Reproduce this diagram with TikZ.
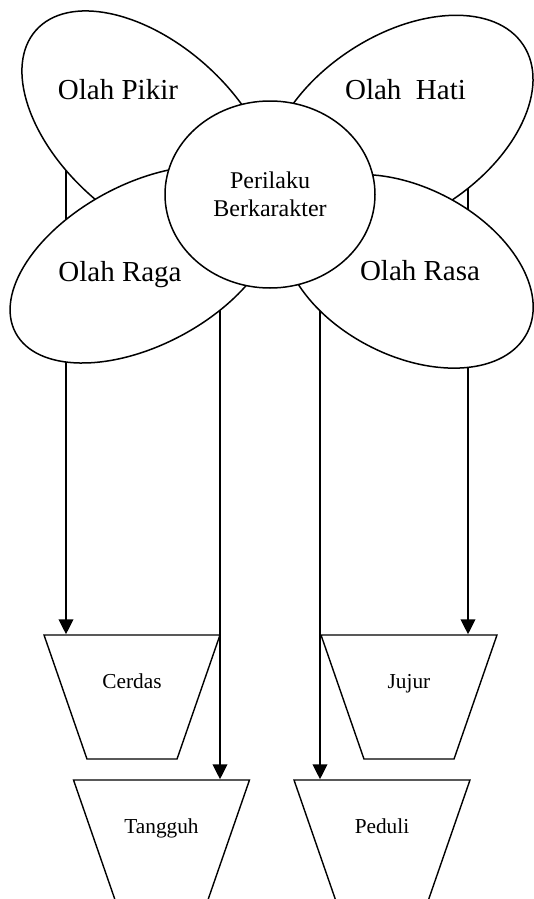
\documentclass[tikz,border=0pt]{standalone}
\usepackage{fontspec}
\setmainfont{Liberation Serif}
\usepackage{tikz}
\usetikzlibrary{positioning, shapes.geometric, arrows.meta}
\tikzstyle{diagram} = [x = 1pt, y = -1pt]
\tikzstyle{petalStyle} = [draw, fill=white, ellipse, inner sep=0, line width=1.5pt]
\tikzstyle{hubStyle} = [petalStyle, minimum width=210pt, minimum height=187pt, align=center, font=\fontsize{24}{28}\selectfont]
\tikzstyle{petalText} = [anchor=base, inner sep=0, font=\fontsize{29}{35}\selectfont]
\tikzstyle{boxStyle} = [draw, fill=white, trapezium, shape border rotate=180, trapezium stretches=true, trapezium left angle=64.5, trapezium right angle=64.5, minimum width=176pt, minimum height=124pt, inner sep=2pt, line width=1.4pt]
\tikzstyle{boxText} = [anchor=base, inner sep=0, font=\fontsize{21.3}{25}\selectfont]
\tikzstyle{arrowLine} = [line width=2.1pt, -{Triangle[length=15pt, width=14.5pt]}]
\newcommand{\petal}[6]{\node [petalStyle, minimum width=#4pt, minimum height=#5pt, rotate=#6] (#1) at (#2,#3) {};}
\newcommand{\resultBox}[4]{\node [boxStyle] (#1) at (#2,#3) {};
  \node [boxText] (#1Text) at ([yshift=9pt]#1.center) {#4};}
\newcommand{\pathway}[4]{\coordinate (#1) at (#2,#3);
  \draw [arrowLine] (#1) -- (#4.north -| #1);}

\begin{document}
\begin{tikzpicture}[diagram]
  \useasboundingbox (0,0) rectangle (534,899);
  % result boxes
  \resultBox{cerdas}{132}{697}{Cerdas}
  \resultBox{jujur}{409}{697}{Jujur}
  \resultBox{tangguh}{161.5}{842}{Tangguh}
  \resultBox{peduli}{382}{842}{Peduli}
  % lines down from the petals
  \pathway{pikirFoot}{66}{150}{cerdas}
  \pathway{ragaFoot}{220}{300}{tangguh}
  \pathway{rasaFoot}{320}{295}{peduli}
  \pathway{hatiFoot}{468}{170}{jujur}
  % petals
  \petal{pikir}{148}{130}{300}{174}{-41.7}
  \petal{hati}{400}{126}{295}{181}{33.2}
  \petal{raga}{143.5}{264.5}{290}{161}{28.1}
  \petal{rasa}{407.6}{271.3}{269}{168}{-27.3}
  \node [hubStyle] (perilaku) at (270,194.5) {Perilaku\\Berkarakter};
  \node [petalText] (pikirText) at (118,99) {Olah Pikir};
  \node [petalText] (hatiText) at (405.5,99) {Olah\ \ Hati};
  \node [petalText] (ragaText) at (120,281) {Olah Raga};
  \node [petalText] (rasaText) at (420,280) {Olah Rasa};
\end{tikzpicture}
\end{document}
